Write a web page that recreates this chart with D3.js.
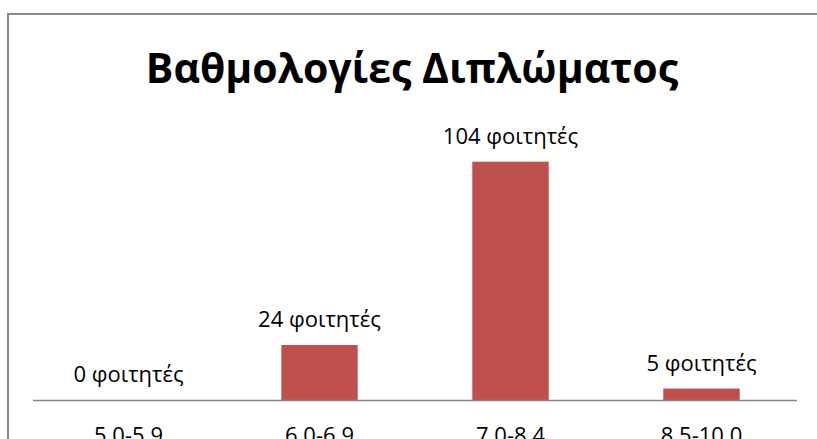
<!DOCTYPE html>
<html>
<head>
<meta charset="utf-8">
<script src="https://cdn.jsdelivr.net/npm/d3@7"></script>
<style>
  html, body { margin: 0; padding: 0; background: #fff; overflow: hidden; }
  svg { display: block; font-family: "Open Sans", "Noto Sans", sans-serif; }
</style>
</head>
<body>
<script>
const title = 'Βαθμολογίες Διπλώματος';
const categories = ['5.0-5.9', '6.0-6.9', '7.0-8.4', '8.5-10.0'];
const students = [0, 24, 104, 5];
const unit = 'φοιτητές';

const width = 817;
const height = 439;
const margin = { top: 125, right: 20, bottom: 39, left: 33 };
const plotW = width - margin.left - margin.right;
const plotH = height - margin.top - margin.bottom;

const svg = d3.select('body').append('svg')
  .attr('width', width)
  .attr('height', height);

// chart frame, runs off the right and bottom edges
svg.append('rect')
  .attr('x', 8)
  .attr('y', 14)
  .attr('width', width + 20)
  .attr('height', height + 20)
  .attr('fill', 'none')
  .attr('stroke', '#8a8a8a')
  .attr('stroke-width', 2);

svg.append('text')
  .attr('x', 412)
  .attr('y', 83)
  .attr('text-anchor', 'middle')
  .attr('font-size', 41)
  .attr('font-weight', 'bold')
  .attr('fill', '#000')
  .text(title);

const x = d3.scaleBand()
  .domain(categories)
  .range([0, plotW])
  .paddingInner(0.6)
  .paddingOuter(0.3);

const y = d3.scaleLinear()
  .domain([0, 120])
  .range([plotH, 0]);

const g = svg.append('g')
  .attr('transform', `translate(${margin.left},${margin.top})`);

g.selectAll('rect.bar')
  .data(students)
  .enter()
  .append('rect')
  .attr('class', 'bar')
  .attr('x', (d, i) => x(categories[i]))
  .attr('y', d => y(d))
  .attr('width', x.bandwidth())
  .attr('height', d => plotH - y(d))
  .attr('fill', '#c0504d');

g.selectAll('text.value')
  .data(students)
  .enter()
  .append('text')
  .attr('class', 'value')
  .attr('x', (d, i) => x(categories[i]) + x.bandwidth() / 2)
  .attr('y', d => y(d) - 18)
  .attr('text-anchor', 'middle')
  .attr('font-size', 22)
  .attr('fill', '#000')
  .text(d => `${d} ${unit}`);

const axis = d3.axisBottom(x).tickSize(0).tickPadding(27);
const axisG = g.append('g')
  .attr('transform', `translate(0,${plotH})`)
  .call(axis);
axisG.select('.domain')
  .attr('stroke', '#868686')
  .attr('stroke-width', 1.5)
  .attr('d', `M0,0.5H${plotW}`);
axisG.selectAll('text')
  .attr('font-size', 22)
  .attr('font-family', '"Open Sans", sans-serif')
  .attr('fill', '#000');
</script>
</body>
</html>
